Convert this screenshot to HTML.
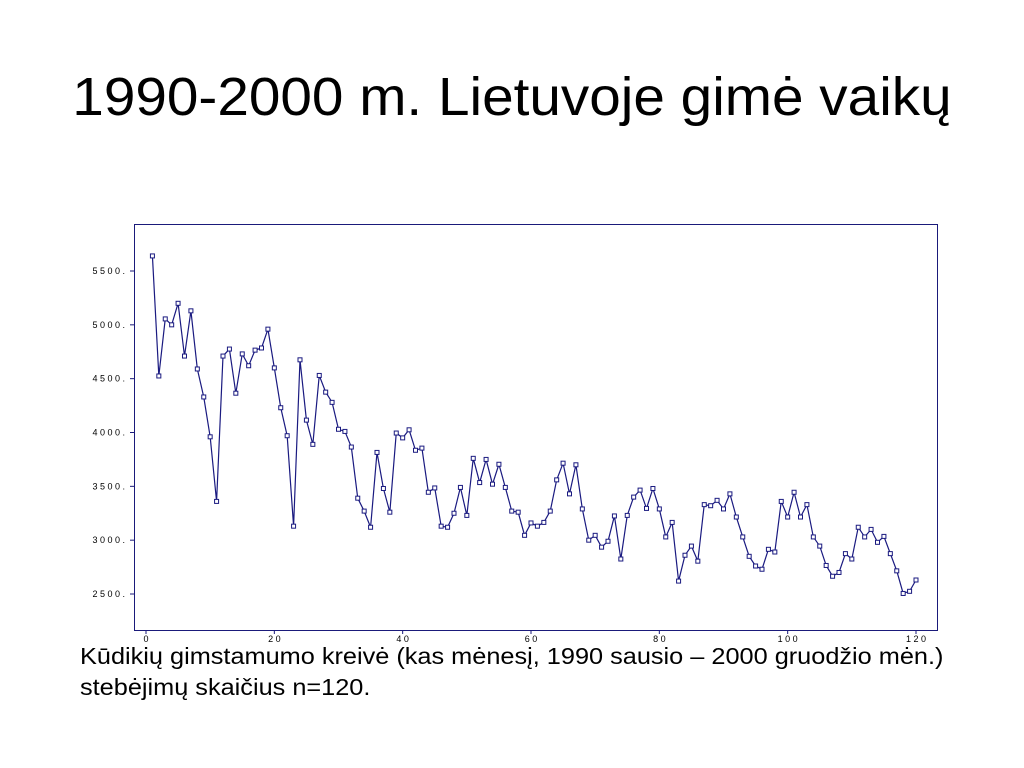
<!DOCTYPE html>
<html><head><meta charset="utf-8"><style>
body{margin:0;width:1024px;height:768px;background:#fff;font-family:"Liberation Sans",Arial,sans-serif;overflow:hidden;position:relative}
#title{position:absolute;top:66px;left:0;width:1024px;text-align:center;font-size:54px;color:#000;transform:scaleX(1.05);transform-origin:512px 0}
#cap{position:absolute;left:80px;top:641px;font-size:23px;line-height:31px;color:#000;white-space:nowrap;transform:scaleX(1.1);transform-origin:0 0}
svg{position:absolute;left:0;top:0}
</style></head><body>
<div id="title">1990-2000 m. Lietuvoje gimė vaikų</div>
<svg id="chart" width="1024" height="768"></svg>
<div id="cap">Kūdikių gimstamumo kreivė (kas mėnesį, 1990 sausio – 2000 gruodžio mėn.)<br>stebėjimų skaičius n=120.</div>
<script>
const xTicks=[0,20,40,60,80,100,120];
const yTicks=[2500,3000,3500,4000,4500,5000,5500];
const births=[5640,4525,5055,5000,5200,4710,5130,4590,4330,3960,3360,4710,4775,4365,4730,4620,4765,4785,4960,4600,
4230,3970,3130,4675,4115,3890,4530,4375,4280,4030,4010,3865,3390,3270,3120,3815,3480,3260,3995,3950,
4025,3835,3855,3445,3485,3130,3120,3250,3490,3230,3760,3535,3750,3520,3705,3490,3270,3260,3045,3160,
3130,3165,3270,3560,3715,3430,3700,3290,3000,3045,2935,2990,3225,2825,3230,3400,3465,3295,3480,3290,
3030,3165,2620,2860,2945,2805,3330,3320,3370,3290,3430,3215,3030,2850,2760,2730,2915,2890,3360,3215,
3445,3215,3330,3030,2945,2765,2665,2700,2875,2825,3120,3030,3100,2980,3035,2875,2715,2505,2525,2630];
const NS='http://www.w3.org/2000/svg',svg=document.getElementById('chart');
const X=v=>146+v*(916-146)/120, Y=v=>594-(v-2500)*(594-271)/3000;
function mk(t,a,p){const e=document.createElementNS(NS,t);for(const k in a)e.setAttribute(k,a[k]);(p||svg).appendChild(e);return e;}
const f=mk('rect',{x:134.5,y:224.5,width:803,height:406,fill:'none',stroke:'#1a1a7a','stroke-width':1});


xTicks.forEach(t=>{
 const l=mk('line',{x1:X(t),x2:X(t),y1:630,y2:634,stroke:'#1a1a7a'});
 
 
 const tx=mk('text',{x:X(t),y:642,'font-size':9,'text-anchor':'middle',fill:'#000'});
 tx.textContent=String(t).split('').join(' ');
 
 
});
yTicks.forEach(t=>{
 const l=mk('line',{x1:130,x2:134,y1:Y(t),y2:Y(t),stroke:'#1a1a7a'});
 
 
 const tx=mk('text',{x:125,y:Y(t)+3,'font-size':9,'text-anchor':'end',fill:'#000'});
 tx.textContent=String(t).split('').join(' ')+' .';
 
 
});
const pts=births.map((v,i)=>X(i+1)+','+Y(v)).join(' ');
const pl=mk('polyline',{points:pts,fill:'none',stroke:'#1a1a80','stroke-width':1.2});


births.forEach((v,i)=>{
 const r=mk('rect',{x:X(i+1)-2,y:Y(v)-2,width:4,height:4,fill:'#fff',stroke:'#1a1a80','stroke-width':1});
 
 
});
</script>
</body></html>
